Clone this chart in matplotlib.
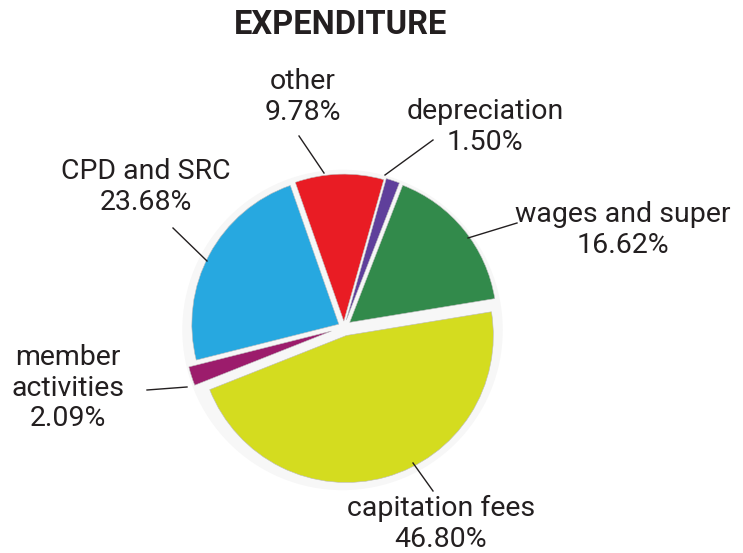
import matplotlib
matplotlib.use("Agg")
import matplotlib.pyplot as plt
from matplotlib.patches import Circle
from matplotlib.lines import Line2D

# ---- data ----
categories = ["capitation fees", "member activities", "CPD and SRC", "other",
              "depreciation", "wages and super"]
values = [46.80, 2.09, 23.68, 9.78, 1.50, 16.62]
label_texts = ["capitation fees\n46.80%", "member\nactivities\n2.09%", "CPD and SRC\n23.68%",
               "other\n9.78%", "depreciation\n1.50%", "wages and super\n16.62%"]
colors = ["#d4dc1f", "#9c1c6c", "#27a8e0", "#e91c24", "#5f3f9b", "#328a4b"]
explode = [0.06, 0.09, 0.04, 0.04, 0.05, 0.05]

W, H = 743, 553
fig = plt.figure(figsize=(W / 100, H / 100), dpi=100)

# pie placement in pixels
cx, cy, R = 344, 327, 147
L = 1.3
side = 2 * L * R
ax = fig.add_axes([(cx - side / 2) / W, (H - cy - side / 2) / H, side / W, side / H])
ax.axis("off")

# soft shadow
ax.add_patch(Circle((-0.01, -0.02), 1.09, color="#f7f7f7", zorder=0, lw=0))

ax.pie(values, colors=colors, explode=explode, startangle=9.3, counterclock=False,
       radius=1.0, wedgeprops=dict(edgecolor="#bdbdbd", linewidth=0.4),
       normalize=True)
ax.set_xlim(-L, L)
ax.set_ylim(-L, L)
ax.set_aspect("equal")

def px(x, y):
    return x / W, 1 - y / H

txt_color = "#231f20"
font = "Roboto"
# label positions (pixel centres)
label_pos = [(441, 524), (68, 388), (146, 187), (303, 97), (485, 127), (623, 230)]
for t, (x, y) in zip(label_texts, label_pos):
    fig.text(*px(x, y), t, ha="center", va="center", fontsize=20.5, family=font,
             weight="normal", color=txt_color, linespacing=1.18)

# leader lines (pixels)
leaders = [((433, 491), (413, 463)), ((147, 390), (187, 387)), ((173, 228), (207, 261)),
           ((299, 136), (324, 173)), ((433, 140), (385, 175)), ((517, 223), (468, 238))]
for (x0, y0), (x1, y1) in leaders:
    fig.add_artist(Line2D([x0 / W, x1 / W], [1 - y0 / H, 1 - y1 / H],
                          transform=fig.transFigure, color="#231f20", lw=1.0))

fig.text(*px(340, 25), "EXPENDITURE", ha="center", va="center", fontsize=23.5,
         family=font, weight="bold", color="#231f20")

fig.savefig("out.png", dpi=100, facecolor="white")
